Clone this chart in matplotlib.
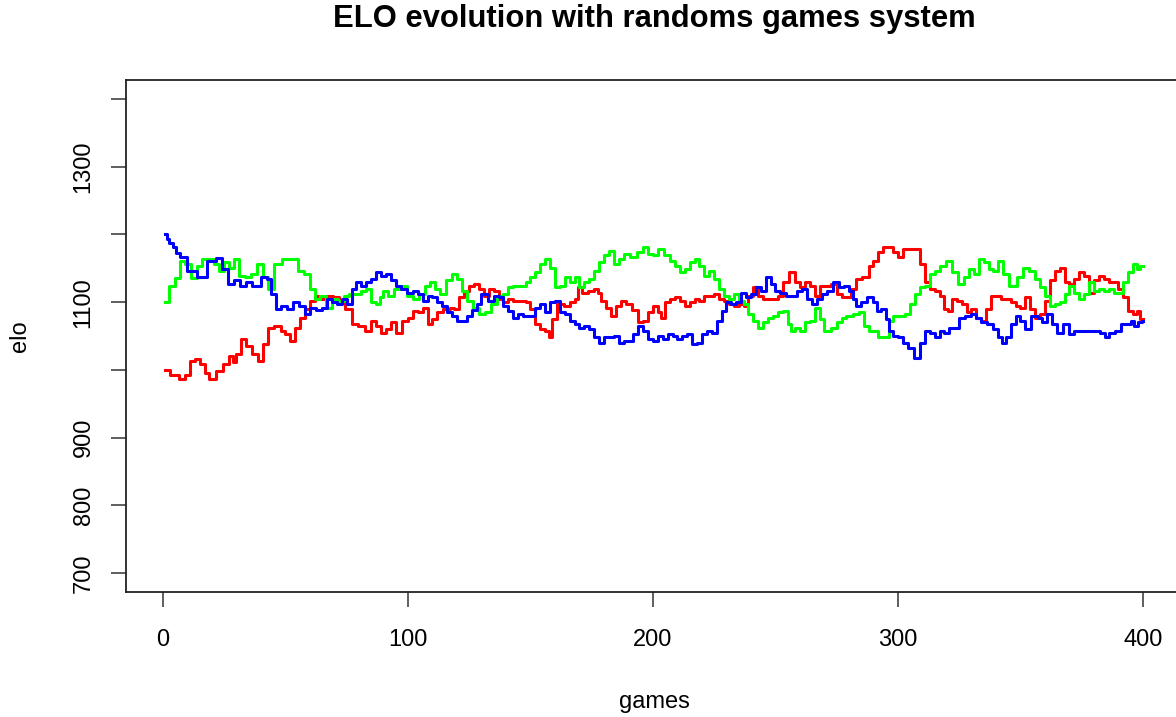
import matplotlib
matplotlib.use("Agg")
import matplotlib.pyplot as plt

plt.rcParams["font.family"] = ["Liberation Sans", "DejaVu Sans"]

# values (game number, elo rating)
red_games = [1, 5, 8, 10, 12, 14, 16, 18, 20, 23, 26, 28, 29, 31, 33, 35, 38, 40, 42, 44,
             47, 49, 51, 53, 55, 57, 59, 61, 63, 65, 68, 71, 73, 76, 78, 81, 84, 86, 88, 90,
             92, 94, 96, 99, 101, 103, 105, 107, 109, 111, 113, 116, 118, 120, 122, 124, 126, 128, 130, 132,
             134, 136, 138, 140, 142, 144, 147, 149, 151, 153, 155, 157, 158, 160, 162, 165, 167, 169, 170, 172,
             175, 177, 178, 180, 182, 184, 186, 188, 190, 193, 195, 197, 199, 201, 203, 204, 206, 208, 210, 212,
             214, 216, 218, 220, 222, 224, 226, 228, 230, 232, 234, 236, 238, 240, 242, 244, 246, 248, 250, 252,
             254, 257, 259, 261, 263, 265, 267, 269, 271, 274, 276, 278, 280, 282, 284, 287, 289, 291, 293, 295,
             297, 299, 301, 303, 305, 308, 310, 312, 314, 316, 318, 320, 321, 323, 325, 327, 329, 331, 333, 335,
             337, 339, 341, 343, 345, 347, 349, 351, 353, 355, 357, 359, 361, 363, 365, 367, 369, 371, 373, 375,
             377, 379, 381, 383, 385, 387, 389, 391, 393, 395, 397, 398, 400]
red_elo = [1000, 993, 986, 993, 1013, 1016, 1008, 996, 986, 998, 1008, 1020, 1011, 1023, 1045, 1035, 1023, 1013, 1038, 1062,
           1065, 1057, 1053, 1043, 1062, 1077, 1090, 1102, 1109, 1104, 1109, 1107, 1100, 1090, 1067, 1065, 1058, 1072, 1065, 1055,
           1060, 1070, 1055, 1072, 1077, 1087, 1085, 1092, 1067, 1075, 1085, 1090, 1092, 1090, 1107, 1117, 1124, 1127, 1119, 1109,
           1119, 1117, 1104, 1100, 1104, 1102, 1102, 1100, 1090, 1067, 1060, 1058, 1048, 1075, 1097, 1095, 1100, 1104, 1122, 1114,
           1117, 1119, 1114, 1102, 1092, 1080, 1095, 1102, 1097, 1088, 1070, 1072, 1085, 1095, 1085, 1077, 1100, 1104, 1107, 1102,
           1095, 1100, 1104, 1102, 1109, 1109, 1112, 1104, 1102, 1097, 1095, 1097, 1095, 1109, 1122, 1109, 1104, 1104, 1104, 1109,
           1129, 1144, 1129, 1122, 1129, 1124, 1109, 1124, 1124, 1127, 1112, 1107, 1107, 1119, 1134, 1137, 1154, 1161, 1174, 1181,
           1181, 1174, 1166, 1179, 1179, 1179, 1156, 1129, 1119, 1117, 1109, 1090, 1087, 1104, 1102, 1097, 1085, 1090, 1077, 1072,
           1090, 1109, 1109, 1104, 1104, 1100, 1095, 1092, 1107, 1090, 1077, 1082, 1102, 1132, 1146, 1151, 1129, 1127, 1134, 1144,
           1139, 1114, 1132, 1139, 1134, 1129, 1129, 1119, 1107, 1087, 1082, 1087, 1075]

green_games = [1, 4, 6, 8, 10, 13, 15, 17, 20, 22, 24, 26, 28, 30, 32, 35, 37, 40, 42, 44,
               47, 50, 54, 56, 59, 61, 63, 65, 68, 70, 73, 75, 77, 80, 82, 84, 86, 88, 89, 91,
               93, 96, 98, 101, 103, 106, 108, 110, 112, 114, 117, 119, 121, 123, 125, 128, 130, 133, 135, 138,
               140, 142, 144, 147, 149, 151, 153, 155, 157, 159, 161, 163, 165, 167, 169, 171, 173, 175, 177, 179,
               181, 183, 185, 187, 189, 192, 195, 197, 199, 201, 203, 206, 208, 210, 212, 214, 216, 218, 220, 222,
               224, 226, 228, 230, 232, 234, 236, 238, 240, 242, 244, 246, 248, 250, 252, 254, 256, 257, 259, 261,
               263, 265, 267, 269, 271, 274, 276, 278, 280, 283, 285, 287, 289, 291, 293, 296, 297, 299, 302, 304,
               306, 308, 310, 312, 314, 316, 318, 321, 323, 326, 328, 330, 332, 334, 336, 338, 340, 342, 344, 347,
               350, 352, 355, 357, 359, 361, 363, 365, 367, 369, 371, 373, 375, 377, 379, 381, 383, 385, 387, 389,
               391, 393, 395, 397, 398, 400]
green_elo = [1100, 1124, 1136, 1161, 1156, 1136, 1154, 1164, 1164, 1156, 1146, 1159, 1151, 1164, 1139, 1137, 1141, 1156, 1137, 1119,
             1156, 1164, 1164, 1146, 1141, 1119, 1104, 1109, 1092, 1104, 1102, 1109, 1112, 1112, 1117, 1119, 1100, 1097, 1107, 1117,
             1109, 1119, 1124, 1109, 1104, 1112, 1124, 1129, 1119, 1112, 1132, 1141, 1134, 1117, 1102, 1092, 1082, 1085, 1097, 1109,
             1112, 1122, 1124, 1124, 1129, 1137, 1144, 1156, 1164, 1151, 1122, 1124, 1137, 1129, 1137, 1122, 1129, 1134, 1146, 1159,
             1169, 1176, 1156, 1164, 1171, 1166, 1174, 1181, 1171, 1169, 1179, 1169, 1161, 1154, 1144, 1149, 1159, 1164, 1154, 1139,
             1146, 1134, 1119, 1109, 1104, 1112, 1102, 1097, 1082, 1072, 1062, 1070, 1077, 1080, 1085, 1087, 1067, 1057, 1062, 1057,
             1070, 1072, 1092, 1075, 1057, 1062, 1070, 1077, 1080, 1082, 1085, 1065, 1057, 1057, 1048, 1048, 1072, 1080, 1080, 1082,
             1097, 1112, 1122, 1124, 1141, 1146, 1154, 1161, 1144, 1127, 1137, 1149, 1141, 1164, 1159, 1149, 1146, 1161, 1141, 1124,
             1137, 1151, 1146, 1134, 1122, 1109, 1095, 1097, 1100, 1112, 1124, 1114, 1104, 1112, 1129, 1117, 1119, 1117, 1119, 1114,
             1114, 1129, 1144, 1156, 1149, 1154]

blue_games = [1, 2, 3, 5, 6, 8, 12, 16, 20, 23, 25, 28, 30, 33, 35, 38, 42, 43, 45, 47, 49, 52, 54, 57,
              59, 61, 64, 66, 68, 70, 72, 74, 76, 78, 80, 82, 84, 86, 88, 90, 92, 94, 96, 98,
              101, 103, 105, 107, 109, 111, 113, 115, 117, 119, 121, 123, 125, 127, 129, 131, 134, 136, 138, 140,
              142, 144, 146, 148, 151, 153, 155, 157, 159, 161, 163, 165, 167, 169, 171, 173, 175, 177, 179, 181,
              183, 185, 187, 189, 191, 193, 195, 197, 199, 201, 203, 205, 207, 209, 211, 213, 215, 217, 219, 221,
              223, 225, 227, 229, 231, 233, 235, 237, 239, 241, 243, 245, 247, 249, 251, 253, 256, 258, 260, 262,
              264, 266, 268, 270, 272, 275, 277, 279, 281, 282, 284, 286, 289, 291, 292, 294, 296, 297, 299, 301,
              303, 305, 308, 310, 312, 314, 316, 318, 320, 322, 324, 326, 329, 331, 333, 335, 338, 340, 342, 343,
              345, 347, 349, 351, 353, 356, 358, 360, 362, 364, 366, 369, 371, 373, 376, 379, 381, 384, 385, 387,
              390, 392, 394, 396, 397, 399, 400]
blue_elo = [1200, 1193, 1188, 1181, 1173, 1166, 1146, 1137, 1161, 1165, 1149, 1127, 1132, 1124, 1129, 1124, 1137, 1134, 1112, 1090, 1095, 1090, 1100, 1095,
            1082, 1092, 1088, 1092, 1104, 1100, 1097, 1104, 1097, 1119, 1129, 1124, 1129, 1134, 1144, 1139, 1141, 1132, 1124, 1119,
            1114, 1117, 1112, 1102, 1109, 1107, 1100, 1095, 1085, 1080, 1072, 1072, 1080, 1088, 1097, 1112, 1102, 1109, 1107, 1095,
            1087, 1077, 1082, 1080, 1080, 1092, 1097, 1085, 1100, 1102, 1085, 1082, 1072, 1067, 1062, 1065, 1060, 1048, 1040, 1048,
            1048, 1050, 1040, 1043, 1043, 1053, 1065, 1058, 1045, 1043, 1050, 1045, 1053, 1050, 1045, 1050, 1053, 1038, 1040, 1053,
            1058, 1055, 1072, 1087, 1100, 1097, 1100, 1114, 1107, 1112, 1122, 1117, 1137, 1127, 1117, 1114, 1109, 1109, 1117, 1119,
            1104, 1097, 1104, 1112, 1117, 1129, 1122, 1124, 1117, 1104, 1095, 1100, 1107, 1100, 1087, 1090, 1075, 1058, 1050, 1048,
            1040, 1033, 1018, 1040, 1058, 1055, 1048, 1058, 1055, 1062, 1062, 1077, 1080, 1082, 1077, 1070, 1067, 1060, 1048, 1040,
            1048, 1067, 1080, 1072, 1060, 1080, 1077, 1070, 1082, 1067, 1055, 1067, 1053, 1058, 1058, 1058, 1058, 1055, 1048, 1055,
            1058, 1067, 1067, 1072, 1065, 1070, 1072]

y_ticks = [700, 800, 900, 1000, 1100, 1200, 1300, 1400]
y_tick_labels = ["700", "800", "900", "", "1100", "", "1300", ""]
x_ticks = [0, 100, 200, 300, 400]

fig = plt.figure(figsize=(11.76, 7.17), dpi=100)
# plot region runs past the right edge of the picture, as in the reference
ax = fig.add_axes([126.3 / 1176, 1 - 592 / 717, 1055.7 / 1176, 512 / 717])

for games, elo, col in [(red_games, red_elo, "#FF0000"),
                        (green_games, green_elo, "#00FF00"),
                        (blue_games, blue_elo, "#0000FF")]:
    ax.plot(games, elo, color=col, linewidth=2.2, drawstyle="steps-mid")

span = 400 - 1
ax.set_xlim(1 - 0.04 * span, 400 + 0.04 * span)
ax.set_ylim(700 - 28, 1400 + 28)

ax.set_xticks(x_ticks)
ax.set_yticks(y_ticks)
ax.set_yticklabels(y_tick_labels, rotation=90, va="center")
ax.tick_params(direction="out", length=10.8, width=1.1, labelsize=17, color="#333333")
ax.tick_params(axis="x", pad=15.5)
ax.tick_params(axis="y", pad=12)
for s in ax.spines.values():
    s.set_linewidth(1.3)
    s.set_color("#222222")

ax.set_xlabel("games", fontsize=17, va="center")
ax.xaxis.set_label_coords(0.5, (592 - 702) / 512)
ax.set_ylabel("elo", fontsize=17, va="center")
ax.yaxis.set_label_coords((20 - 126.3) / 1055.7, 0.5)

fig.text(654 / 1176, 1 - 19 / 717, "ELO evolution with randoms games system",
         ha="center", va="center", fontsize=22.3, fontweight="bold")

fig.savefig("out.png", dpi=100)
